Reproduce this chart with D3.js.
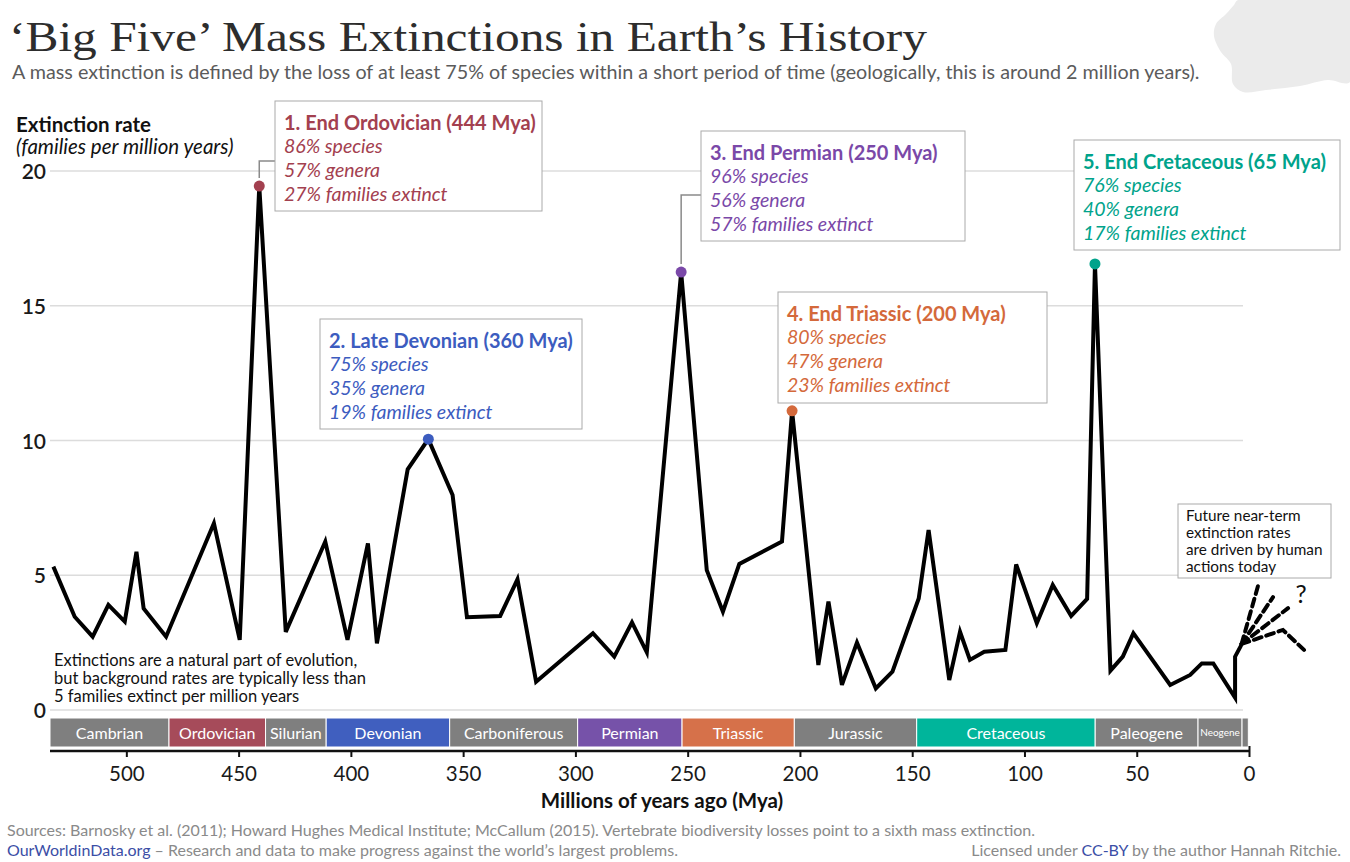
<!DOCTYPE html>
<html>
<head>
<meta charset="utf-8">
<script src="https://cdn.jsdelivr.net/npm/d3@7"></script>
<style>
  html, body { margin: 0; padding: 0; background: #fff; }
  svg { display: block; font-family: Lato, "Open Sans", sans-serif; }
</style>
</head>
<body>
<svg id="chart" width="1350" height="862"></svg>
<script>
// ---------------- DATA ----------------
const years = [532.5, 523, 515, 508, 500.7, 495.5, 492.3, 482.3, 461, 449.5,
  440.8, 429, 411.4, 401.5, 392.4, 388.4, 374.7, 365.5, 354.7, 348.3,
  333.5, 325.8, 317.5, 292.2, 282.7, 274.8, 268.2, 252.9, 241.5, 234.3,
  227, 208, 203.5, 191.8, 187.3, 181.3, 174.6, 166.2, 158.8, 147.1,
  142.7, 133.5, 128.7, 124.3, 117.9, 108.5, 103.7, 94.5, 87.4, 79.2,
  72.1, 68.6, 61.7, 56.2, 51.5, 35.1, 26.2, 21, 15.9, 6.2, 6.2, 3.5];
const rates = [5.32, 3.46, 2.72, 3.9, 3.28, 5.87, 3.77, 2.72, 6.93, 2.6,
  19.44, 2.9, 6.25, 2.6, 6.18, 2.47, 8.93, 10.05, 7.98, 3.44,
  3.49, 4.85, 1.05, 2.85, 1.98, 3.25, 2.14, 16.25, 5.19, 3.65,
  5.42, 6.25, 11.1, 1.67, 4.02, 0.93, 2.5, 0.8, 1.42, 4.14,
  6.68, 1.11, 2.9, 1.86, 2.16, 2.23, 5.4, 3.22, 4.64, 3.49,
  4.12, 16.55, 1.46, 1.98, 2.85, 0.93, 1.3, 1.73, 1.73, 0.46, 1.98, 2.4];

const periods = ["Cambrian", "Ordovician", "Silurian", "Devonian", "Carboniferous", "Permian",
  "Triassic", "Jurassic", "Cretaceous", "Paleogene", "Neogene", ""];
const periodStart = [534, 481, 438, 411, 356, 299, 252.5, 202.5, 148, 68.5, 22.7, 3.1];
const periodEnd   = [481, 438, 411, 356, 299, 252.5, 202.5, 148, 68.5, 22.7, 3.1, 0.3];
const periodColors = ["#7f7f7f", "#a64b5a", "#7f7f7f", "#405fbf", "#7f7f7f", "#7652a9",
  "#d6714a", "#7f7f7f", "#00b59b", "#7f7f7f", "#7f7f7f", "#7f7f7f"];

const eventTitles = ["1. End Ordovician (444 Mya)", "2. Late Devonian (360 Mya)", "3. End Permian (250 Mya)",
  "4. End Triassic (200 Mya)", "5. End Cretaceous (65 Mya)"];
const eventYears = [440.8, 365.5, 252.9, 203.5, 68.6];
const eventRates = [19.44, 10.05, 16.25, 11.1, 16.55];
const eventSpecies = ["86% species", "75% species", "96% species", "80% species", "76% species"];
const eventGenera = ["57% genera", "35% genera", "56% genera", "47% genera", "40% genera"];
const eventFamilies = ["27% families extinct", "19% families extinct", "57% families extinct",
  "23% families extinct", "17% families extinct"];
const eventColors = ["#a3404f", "#3c5cbf", "#7a48a8", "#d4693b", "#00a38b"];

const futureYears = [[3.3, -4.0], [3.3, -10.7], [3.3, -17.4], [3.3, -15.1, -24.5]];
const futureRates = [[2.45, 4.6], [2.45, 4.19], [2.45, 3.78], [2.45, 2.97, 2.23]];

const yTicks = [0, 5, 10, 15, 20];
const xTicks = [500, 450, 400, 350, 300, 250, 200, 150, 100, 50, 0];

// ---------------- CHART ----------------
const svg = d3.select("#chart");
const x = d3.scaleLinear().domain([534, 0]).range([50, 1249]);
const y = d3.scaleLinear().domain([0, 20]).range([710, 171]);

// decorative blob top-right
const blob = [[1238,0],[1350,0],[1350,82],[1328,80],[1300,86],[1266,90],[1243,92],[1233,84],[1231,64],[1221,52],[1214,36],[1216,24],[1226,14],[1234,5]];
svg.append("path").attr("d", d3.line().curve(d3.curveCatmullRomClosed)(blob)).attr("fill", "#ebebeb");

// title
svg.append("text").attr("x", 9).attr("y", 51)
  .attr("font-family", "'Liberation Serif', 'DejaVu Serif', serif")
  .attr("fill", "#2d2d2d").attr("font-size", 42)
  .attr("textLength", 918).attr("lengthAdjust", "spacingAndGlyphs")
  .text("‘Big Five’ Mass Extinctions in Earth’s History");

const sub = svg.append("text").attr("x", 12).attr("y", 79)
  .attr("fill", "#5b5b5b").attr("font-size", 19)
  .text("A mass extinction is defined by the loss of at least 75% of species within a short period of time (geologically, this is around 2 million years).");
let sw = sub.node().getComputedTextLength();
sub.attr("font-size", 19 * 1188 / sw);

// y axis label
svg.append("text").attr("x", 16).attr("y", 132).attr("font-size", 20.5).attr("font-weight", "bold")
  .attr("fill", "#111").text("Extinction rate");
svg.append("text").attr("x", 16).attr("y", 154).attr("font-size", 20.5).attr("font-style", "italic")
  .attr("fill", "#111").text("(families per million years)");

// gridlines
const gy = svg.append("g");
gy.selectAll("line").data(yTicks).join("line")
  .attr("x1", 50).attr("x2", 1243)
  .attr("y1", d => y(d)).attr("y2", d => y(d))
  .attr("stroke", "#dcdcdc").attr("stroke-width", 1.5);
gy.selectAll("text").data(yTicks).join("text")
  .attr("x", 46).attr("y", d => y(d) + 8).attr("text-anchor", "end")
  .attr("font-size", 21).attr("font-weight", 600).attr("fill", "#1a1a1a")
  .text(d => d);

// period bar
const pb = svg.append("g");
pb.selectAll("rect").data(periods).join("rect")
  .attr("x", (d, i) => x(periodStart[i])).attr("width", (d, i) => x(periodEnd[i]) - x(periodStart[i]))
  .attr("y", 718).attr("height", 29)
  .attr("fill", (d, i) => periodColors[i])
  .attr("stroke", "#fff").attr("stroke-width", 1);
pb.selectAll("text").data(periods).join("text")
  .attr("x", (d, i) => (x(periodStart[i]) + x(periodEnd[i])) / 2)
  .attr("y", (d, i) => d === "Neogene" ? 736 : 738.5)
  .attr("text-anchor", "middle").attr("fill", "#fff")
  .attr("font-size", d => d === "Neogene" ? 10 : 16)
  .text(d => d);

// x axis
const xAxis = d3.axisBottom(x).tickValues(xTicks).tickSize(6).tickFormat(d3.format("d"));
const gx = svg.append("g").attr("transform", "translate(0,751)").call(xAxis);
gx.select(".domain").attr("stroke", "#111").attr("stroke-width", 2.5).attr("d", "M50,0H1249");
gx.selectAll(".tick line").attr("stroke", "#111").attr("stroke-width", 2);
gx.selectAll(".tick text").attr("font-size", 20.5).attr("fill", "#1a1a1a")
  .attr("font-family", "Lato, sans-serif").attr("dy", 0).attr("y", 30);
gx.selectAll(".tick").filter(d => d === 0).select("line").attr("y1", -5);

svg.append("text").attr("x", 662).attr("y", 808).attr("text-anchor", "middle")
  .attr("font-size", 20.5).attr("font-weight", "bold").attr("fill", "#111")
  .text("Millions of years ago (Mya)");

// background note
const note = svg.append("text").attr("font-size", 16.5).attr("fill", "#111");
["Extinctions are a natural part of evolution,", "but background rates are typically less than", "5 families extinct per million years"]
  .forEach((t, i) => note.append("tspan").attr("x", 54).attr("y", 666 + i * 18).text(t));

// connectors
svg.append("path").attr("d", `M${x(eventYears[0])},${y(eventRates[0]) - 8}V161H275`)
  .attr("fill", "none").attr("stroke", "#8a8a8a").attr("stroke-width", 1.5);
svg.append("path").attr("d", `M${x(eventYears[2])},${y(eventRates[2]) - 8}V195H701`)
  .attr("fill", "none").attr("stroke", "#8a8a8a").attr("stroke-width", 1.5);

// main line
svg.append("path").datum(years.map((d, i) => [d, rates[i]]))
  .attr("d", d3.line().x(d => x(d[0])).y(d => y(d[1])))
  .attr("fill", "none").attr("stroke", "#000").attr("stroke-width", 4)
  .attr("stroke-linejoin", "miter").attr("stroke-miterlimit", 4);

// future dashed lines
futureYears.forEach((ys, k) => {
  svg.append("path").datum(ys.map((d, i) => [d, futureRates[k][i]]))
    .attr("d", d3.line().x(d => x(d[0])).y(d => y(d[1])))
    .attr("fill", "none").attr("stroke", "#000").attr("stroke-width", 4)
    .attr("stroke-dasharray", "8,5").attr("stroke-linecap", "round");
});
svg.append("text").attr("x", 1301).attr("y", 603).attr("text-anchor", "middle")
  .attr("font-size", 25).attr("fill", "#111").text("?");

// future box
svg.append("rect").attr("x", 1178).attr("y", 504).attr("width", 153).attr("height", 74)
  .attr("fill", "#fff").attr("stroke", "#aaa").attr("stroke-width", 1);
const ft = svg.append("text").attr("font-size", 15.3).attr("fill", "#111");
["Future near-term", "extinction rates", "are driven by human", "actions today"]
  .forEach((t, i) => ft.append("tspan").attr("x", 1186).attr("y", 521 + i * 17).text(t));

// event boxes
const boxes = [[275, 101, 267, 110], [320, 319, 262, 110], [701, 131, 264, 110], [778, 292, 269, 111], [1074, 140, 266, 110]];
boxes.forEach((b, i) => {
  const g = svg.append("g");
  g.append("rect").attr("x", b[0]).attr("y", b[1]).attr("width", b[2]).attr("height", b[3])
    .attr("fill", "#fff").attr("stroke", "#aaa").attr("stroke-width", 1);
  g.append("text").attr("x", b[0] + 9).attr("y", b[1] + 29).attr("font-size", 20)
    .attr("font-weight", "bold").attr("fill", eventColors[i]).text(eventTitles[i]);
  [eventSpecies[i], eventGenera[i], eventFamilies[i]].forEach((t, j) => {
    g.append("text").attr("x", b[0] + 9).attr("y", b[1] + 52 + j * 24).attr("font-size", 19.5)
      .attr("font-style", "italic").attr("fill", eventColors[i]).text(t);
  });
});

// event dots
svg.selectAll("circle.ev").data(eventYears).join("circle").attr("class", "ev")
  .attr("cx", d => x(d)).attr("cy", (d, i) => y(eventRates[i]))
  .attr("r", 5.5).attr("fill", (d, i) => eventColors[i]);

// footer
svg.append("text").attr("x", 7).attr("y", 836).attr("font-size", 16).attr("fill", "#8a8a8a")
  .text("Sources: Barnosky et al. (2011); Howard Hughes Medical Institute; McCallum (2015). Vertebrate biodiversity losses point to a sixth mass extinction.");
const f2 = svg.append("text").attr("x", 7).attr("y", 856).attr("font-size", 16).attr("fill", "#8a8a8a");
f2.append("tspan").attr("fill", "#3b4ea6").text("OurWorldinData.org");
f2.append("tspan").text(" – Research and data to make progress against the world’s largest problems.");
const f3 = svg.append("text").attr("x", 1341).attr("y", 856).attr("font-size", 16).attr("fill", "#8a8a8a")
  .attr("text-anchor", "end");
f3.append("tspan").text("Licensed under ");
f3.append("tspan").attr("fill", "#3b4ea6").text("CC-BY");
f3.append("tspan").text(" by the author Hannah Ritchie.");
</script>
</body>
</html>
